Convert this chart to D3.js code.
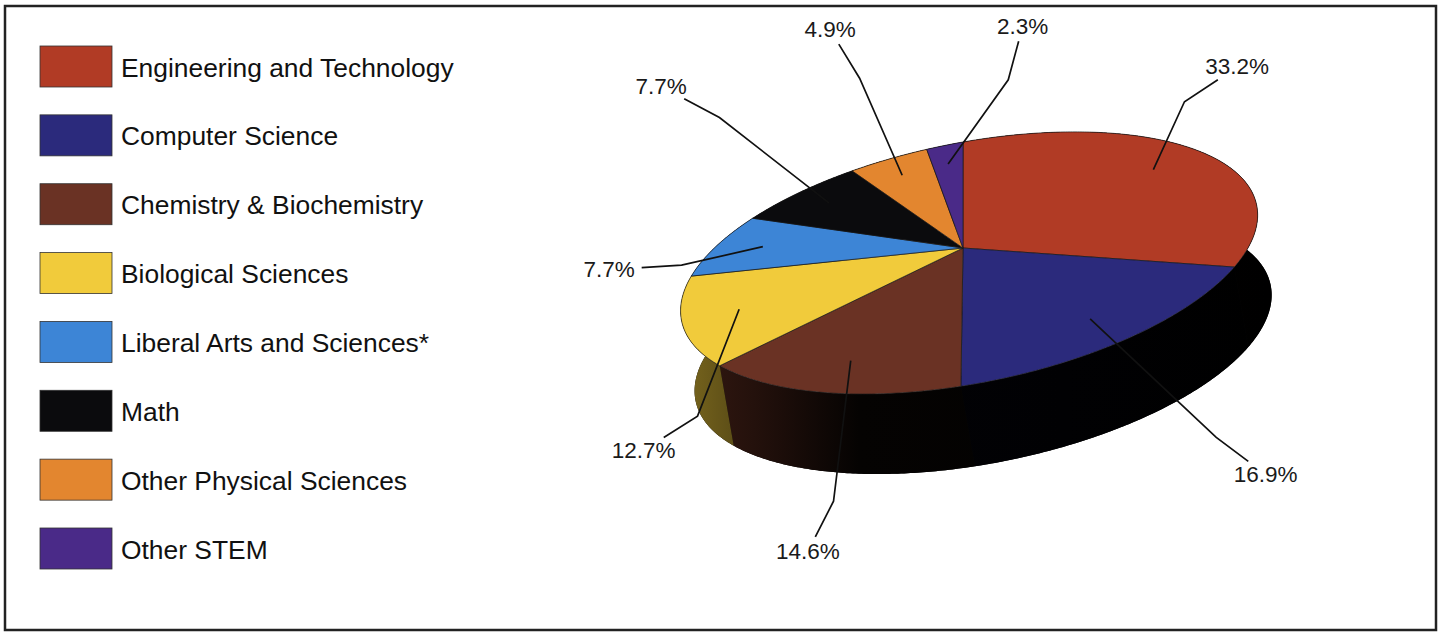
<!DOCTYPE html>
<html>
<head>
<meta charset="utf-8">
<script src="https://cdn.jsdelivr.net/npm/d3@7"></script>
<style>
  html, body { margin: 0; padding: 0; background: #fff; }
  svg { display: block; font-family: "Liberation Sans", Arial, Helvetica, sans-serif; }
</style>
</head>
<body>
<svg id="chart" width="1445" height="632"></svg>
<script>
const categories = [
  'Engineering and Technology',
  'Computer Science',
  'Chemistry & Biochemistry',
  'Biological Sciences',
  'Liberal Arts and Sciences*',
  'Math',
  'Other Physical Sciences',
  'Other STEM',
];
const shares = [33.2, 16.9, 14.6, 12.7, 7.7, 7.7, 4.9, 2.3];
const colors = ['#b13b25', '#2b2a7c', '#6a3224', '#f1cb3b', '#3d85d6', '#0b0b0d', '#e3862f', '#4a2a88'];
// callout angle nudges in degrees, keeps labels from bumping into each other
const labelNudge = [-17, -22, -10, -17, -23.5, -12, 4, 8];

const svg = d3.select('#chart');

svg.append('rect')
  .attr('x', 5).attr('y', 6)
  .attr('width', 1431).attr('height', 624)
  .attr('fill', '#fff')
  .attr('stroke', '#222')
  .attr('stroke-width', 2.5);

// ---- legend ----
const rowY = d3.scalePoint().domain(categories).range([66.5, 548.5]);
const legend = svg.append('g');
const rows = legend.selectAll('g').data(categories).join('g')
  .attr('transform', (d) => `translate(0,${rowY(d)})`);
rows.append('rect')
  .attr('x', 40).attr('y', -20.5)
  .attr('width', 72).attr('height', 41)
  .attr('fill', (d, i) => colors[i])
  .attr('stroke', '#333')
  .attr('stroke-width', 0.8);
rows.append('text')
  .attr('x', 121).attr('y', 10)
  .attr('font-size', 26.4)
  .attr('fill', '#111')
  .text((d) => d);

// ---- 3d pie ----
const cx = 963, cy = 248;
const depth = { dx: 14, dy: 80 };
// projective map of the unit disc onto the tilted top face
const P = { a: 265.7, b: -126.2, d: -53, e: 87.4, g: -0.021, h: -0.131 };
function project(theta, r) {
  const x = r * Math.sin(theta), y = -r * Math.cos(theta);
  const w = 1 + P.g * x + P.h * y;
  return [(P.a * x + P.b * y + cx) / w, (P.d * x + P.e * y + cy) / w];
}

const pie = d3.pie().sort(null).value((d) => d);
const arcs = pie(shares);
const line = d3.line();

function arcPoints(a0, a1, r) {
  const n = Math.max(4, Math.ceil((a1 - a0) / 0.01));
  return d3.range(n + 1).map((k) => project(a0 + (a1 - a0) * k / n, r));
}
function wall(a0, a1) {
  const top = arcPoints(a0, a1, 1);
  const bottom = top.slice().reverse().map(([x, y]) => [x + depth.dx, y + depth.dy]);
  return line(top.concat(bottom)) + 'Z';
}

const leftX = project(1.5 * Math.PI, 1)[0];
const rightX = project(0.5 * Math.PI, 1)[0] + depth.dx;
const defs = svg.append('defs');
arcs.forEach((d, i) => {
  const mix = d3.interpolateRgb(colors[i], '#000');
  const grad = defs.append('linearGradient')
    .attr('id', 'side' + i)
    .attr('gradientUnits', 'userSpaceOnUse')
    .attr('x1', leftX).attr('x2', rightX)
    .attr('y1', 0).attr('y2', 0);
  [[0, 0.5], [0.12, 0.66], [0.3, 0.95], [1, 1]].forEach(([o, t]) =>
    grad.append('stop').attr('offset', o).attr('stop-color', mix(t)));
});

const pieG = svg.append('g');

// one dark band under everything so the slice walls leave no seams
pieG.append('path')
  .attr('d', wall(0, 2 * Math.PI))
  .attr('fill', '#050505');

// side walls (top faces cover the hidden part)
pieG.append('g').selectAll('path').data(arcs).join('path')
  .attr('d', (d) => wall(d.startAngle, d.endAngle))
  .attr('fill', (d, i) => `url(#side${i})`);

// top faces
pieG.append('g').selectAll('path').data(arcs).join('path')
  .attr('d', (d) => line([[cx, cy]].concat(arcPoints(d.startAngle, d.endAngle, 1))) + 'Z')
  .attr('fill', (d, i) => colors[i])
  .attr('stroke', '#1a1a1a')
  .attr('stroke-width', 0.7)
  .attr('stroke-linejoin', 'round');

// ---- callouts ----
const Rx = 354, RyTop = 222, RyBot = 312, q = 0.66;
function labelPos(a) {
  const s = Math.sin(a), c = Math.cos(a);
  const sx = Math.sign(s) * Math.pow(Math.abs(s), q);
  const sy = Math.sign(c) * Math.pow(Math.abs(c), q);
  return [cx + Rx * sx, cy - (c > 0 ? RyTop : RyBot) * sy];
}

const callouts = svg.append('g');
arcs.forEach((d, i) => {
  const mid = (d.startAngle + d.endAngle) / 2;
  const [lx, ly] = labelPos(mid + labelNudge[i] * Math.PI / 180);
  const label = callouts.append('text')
    .attr('x', lx).attr('y', ly)
    .attr('text-anchor', 'middle')
    .attr('dominant-baseline', 'central')
    .attr('font-size', 22.5)
    .attr('fill', '#1a1a1a')
    .text(d3.format('.1f')(d.data) + '%');

  const hw = label.node().getComputedTextLength() / 2 + 2, hh = 10;
  let ux = cx - lx, uy = cy - ly;
  const len = Math.hypot(ux, uy);
  ux /= len; uy /= len;
  const gap = Math.min(hw / Math.abs(ux || 1e-6), hh / Math.abs(uy || 1e-6)) + 5;
  const end = [lx + ux * gap, ly + uy * gap];
  const elbow = [end[0] + ux * 40, end[1] + uy * 40];
  const anchor = project(mid, 0.8);

  callouts.append('path')
    .attr('d', line([anchor, elbow, end]))
    .attr('fill', 'none')
    .attr('stroke', '#111')
    .attr('stroke-width', 1.7);
});
</script>
</body>
</html>
